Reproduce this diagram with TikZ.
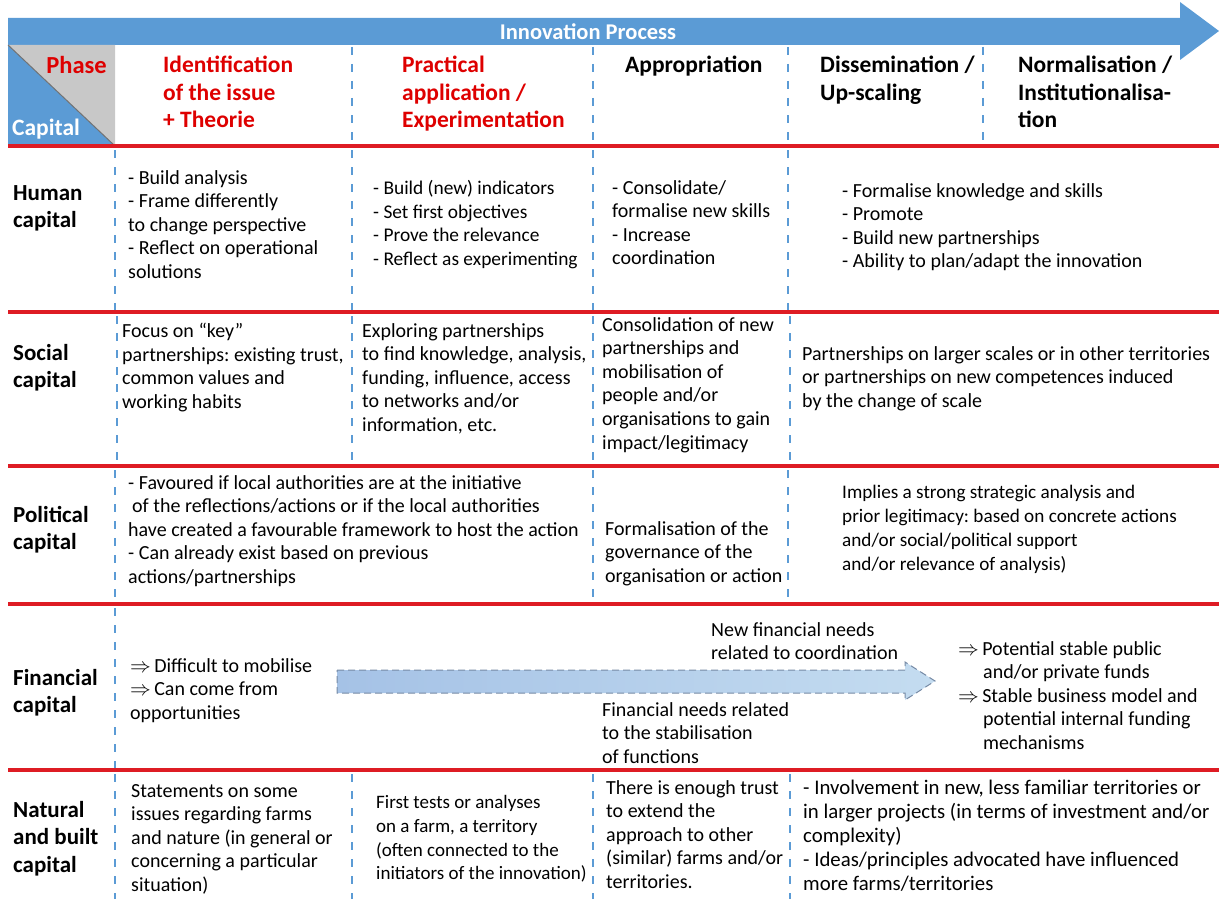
\documentclass[tikz,border=0pt]{standalone}
\usepackage{fontspec}
\setmainfont{Carlito}
\usepackage{tikz}
\frenchspacing

\definecolor{procblue}{RGB}{91,155,213}
\definecolor{phasered}{RGB}{222,0,0}
\definecolor{rulered}{RGB}{222,28,36}
\definecolor{cellgray}{RGB}{200,200,200}
\definecolor{arrowfill}{RGB}{196,220,240}
\definecolor{arrowdark}{RGB}{165,194,230}
\definecolor{arrowedge}{RGB}{118,138,165}

\newcommand{\bodyfont}{\fontsize{20}{23.6}\selectfont}
\newcommand{\capfont}{\fontsize{23}{27.5}\selectfont\bfseries}
\newcommand{\headfont}{\fontsize{23.5}{27.5}\selectfont\bfseries}

\tikzset{
  cell/.style={anchor=north west, inner sep=0pt, align=left, font=\bodyfont},
  capital/.style={anchor=north west, inner sep=0pt, align=left, font=\capfont},
  phase/.style={anchor=north west, inner sep=0pt, align=left, font=\headfont},
  redphase/.style={phase, text=phasered},
  sep/.style={procblue, line width=2.5pt, dash pattern=on 8pt off 9pt},
  rowline/.style={rulered, line width=4pt},
}

\begin{document}
\begin{tikzpicture}[x=1pt,y=-1pt]
  \useasboundingbox (0,0) rectangle (1219,899);

  % Define parameters
  \def\tableL{8}        % left edge of the table
  \def\tableR{1219}     % right edge of the table
  \def\labelW{115}      % right edge of the capital column

  % Draw the innovation process arrow
  \fill[procblue] (\tableL,18) -- (1180,18) -- (1180,2) -- (\tableR,31) -- (1180,60) -- (1180,45) -- (\tableL,45) -- cycle;
  \node[inner sep=0pt, text=white, font=\fontsize{22.5}{26}\selectfont\bfseries] (process) at (588,32) {Innovation Process};

  % Draw the phase / capital corner
  \fill[cellgray] (\tableL,45) -- (\labelW,45) -- (\labelW,146) -- cycle;
  \fill[procblue] (\tableL,45) -- (\tableL,146) -- (\labelW,146) -- cycle;
  \draw[black!55, line width=1pt] (\tableL,45) -- (\labelW,146);
  \node[anchor=north east, inner sep=0pt, font=\fontsize{24.5}{27.5}\selectfont\bfseries, text=phasered] (phase) at (107,56) {Phase};
  \node[phase, text=white] (capital) at (12,119) {Capital};

  % Draw the phases
  \node[redphase] (identif) at (163,56) {Identification\\of the issue\\+ Theorie};
  \node[redphase] (practical) at (402,56) {Practical\\application /\\Experimentation};
  \node[phase] (approp) at (625,56) {Appropriation};
  \node[phase] (dissem) at (820,56) {Dissemination /\\Up-scaling};
  \node[phase] (normal) at (1018,56) {Normalisation /\\Institutionalisa-\\tion};
  \foreach \x in {352, 593, 788, 983} {
      \draw[sep] (\x,47) -- (\x,146);
  }

  % Draw the row rules
  \foreach \y in {146, 312, 466, 604, 770} {
      \draw[rowline] (\tableL,\y) -- (\tableR,\y);
  }

  % Human capital
  \foreach \x in {\labelW, 352, 593, 788} {
      \draw[sep] (\x,150) -- (\x,310);
  }
  \node[capital] (human) at (13,185) {Human\\capital};
  \node[cell] (human1) at (128,170) {- Build analysis\\- Frame differently\\to change perspective\\- Reflect on operational\\solutions};
  \node[cell, font=\fontsize{19.4}{23.8}\selectfont] (human2) at (373,180) {- Build (new) indicators\\- Set first objectives\\- Prove the relevance\\- Reflect as experimenting};
  \node[cell] (human3) at (612,180) {- Consolidate/\\formalise new skills\\- Increase\\coordination};
  \node[cell] (human4) at (842,183) {- Formalise knowledge and skills\\- Promote\\- Build new partnerships\\- Ability to plan/adapt the innovation};

  % Social capital
  \foreach \x in {117, 352, 593, 790} {
      \draw[sep] (\x,316) -- (\x,464);
  }
  \node[capital] (social) at (13,344) {Social\\capital};
  \node[cell] (social1) at (122,323) {Focus on “key”\\partnerships: existing trust,\\common values and\\working habits};
  \node[cell] (social2) at (362,323) {Exploring partnerships\\to find knowledge, analysis,\\funding, influence, access\\to networks and/or\\information, etc.};
  \node[cell] (social3) at (602,317) {Consolidation of new\\partnerships and\\mobilisation of\\people and/or\\organisations to gain\\impact/legitimacy};
  \node[cell] (social4) at (802,346) {Partnerships on larger scales or in other territories\\or partnerships on new competences induced\\by the change of scale};

  % Political capital
  \foreach \x in {\labelW, 593, 788} {
      \draw[sep] (\x,470) -- (\x,602);
  }
  \node[capital] (political) at (13,506) {Political\\capital};
  \node[cell] (political1) at (128,475) {- Favoured if local authorities are at the initiative\\\hspace*{4pt}of the reflections/actions or if the local authorities\\have created a favourable framework to host the action\\- Can already exist based on previous\\actions/partnerships};
  \node[cell] (political3) at (605,521) {Formalisation of the\\governance of the\\organisation or action};
  \node[cell, font=\fontsize{19.2}{24}\selectfont] (political4) at (842,485) {Implies a strong strategic analysis and\\prior legitimacy: based on concrete actions\\and/or social/political support\\and/or relevance of analysis)};

  % Financial capital
  \draw[sep] (\labelW,608) -- (\labelW,768);
  \node[capital] (financial) at (13,669) {Financial\\capital};
  \node[cell] (financial1) at (130,658) {$\Rightarrow$\,Difficult to mobilise\\$\Rightarrow$\,Can come from\\opportunities};
  \coordinate (needstart) at (337,670);
  \coordinate (needtip) at (935,681);
  \draw[arrowedge, line width=1pt, dash pattern=on 7pt off 4pt, left color=arrowdark, right color=arrowfill]
      (needstart) -- (905,670) -- (905,662) -- (needtip) -- (905,700) -- (905,693) -- (337,693) -- cycle;
  \node[cell] (newneeds) at (711,622) {New financial needs\\related to coordination};
  \node[cell] (stabneeds) at (602,702) {Financial needs related\\to the stabilisation\\of functions};
  \node[cell] (financial4) at (958,641) {$\Rightarrow$\,Potential stable public\\\hspace*{25pt}and/or private funds\\$\Rightarrow$\,Stable business model and\\\hspace*{25pt}potential internal funding\\\hspace*{25pt}mechanisms};

  % Natural and built capital
  \foreach \x in {\labelW, 352, 593, 790} {
      \draw[sep] (\x,774) -- (\x,899);
  }
  \node[capital] (natural) at (13,801) {Natural\\and built\\capital};
  \node[cell] (natural1) at (131,784) {Statements on some\\issues regarding farms\\and nature (in general or\\concerning a particular\\situation)};
  \node[cell, font=\fontsize{19}{23.8}\selectfont] (natural2) at (376,795) {First tests or analyses\\on a farm, a territory\\(often connected to the\\initiators of the innovation)};
  \node[cell] (natural3) at (606,780) {There is enough trust\\to extend the\\approach to other\\(similar) farms and/or\\territories.};
  \node[cell, font=\fontsize{20.8}{24}\selectfont] (natural4) at (803,780) {- Involvement in new, less familiar territories or\\in larger projects (in terms of investment and/or\\complexity)\\- Ideas/principles advocated have influenced\\more farms/territories};
\end{tikzpicture}
\end{document}
